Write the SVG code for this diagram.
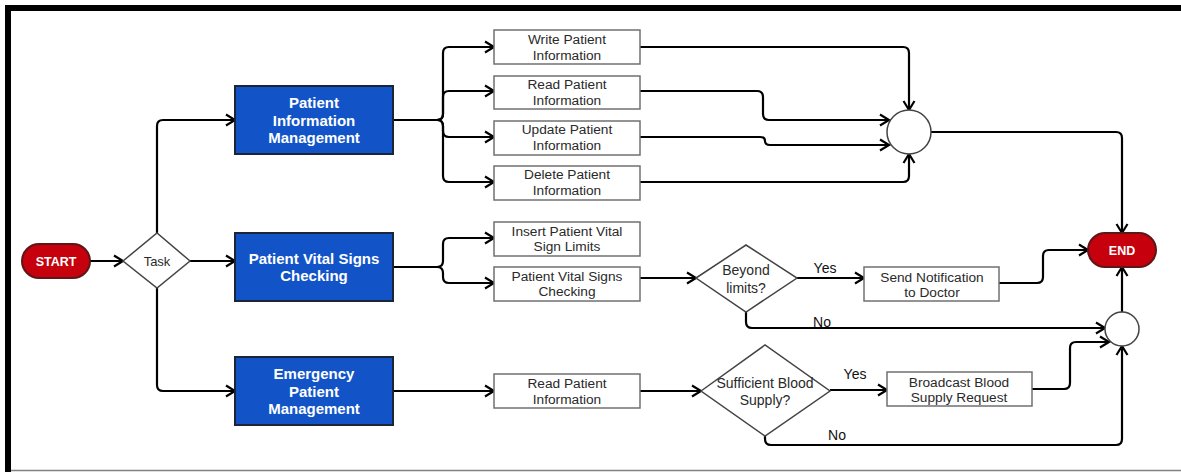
<svg xmlns="http://www.w3.org/2000/svg" width="1181" height="472" viewBox="0 0 1181 472">
  <style>
    .terminal { fill: #c6000c; stroke: #5e1616; stroke-width: 2; }
    .terminal-text { font-family: "Liberation Sans", Arial, sans-serif; font-size: 12.5px; font-weight: bold; fill: #ffffff; text-anchor: middle; }
    .module { fill: #1254c8; stroke: #1a2538; stroke-width: 2; }
    .module-text { font-family: "Liberation Sans", Arial, sans-serif; font-size: 15px; font-weight: bold; fill: #ffffff; text-anchor: middle; }
    .step { fill: #ffffff; stroke: #707070; stroke-width: 1.5; }
    .step-text { font-family: "Liberation Sans", Arial, sans-serif; font-size: 13.7px; fill: #2a2a2a; text-anchor: middle; }
    .decision { fill: #ffffff; stroke: #444444; stroke-width: 1.5; }
    .decision-text { font-family: "Liberation Sans", Arial, sans-serif; font-size: 14px; fill: #2a2a2a; text-anchor: middle; }
    .junction { fill: #ffffff; stroke: #444444; stroke-width: 1.5; }
    .flow { fill: none; stroke: #000000; stroke-width: 2.2; }
    .flow-arrow { fill: none; stroke: #000000; stroke-width: 2.2; marker-end: url(#arrow); }
    .label { font-family: "Liberation Sans", Arial, sans-serif; font-size: 14px; fill: #111111; text-anchor: middle; }
  </style>
  <defs>
    <marker id="arrow" markerWidth="14" markerHeight="14" refX="11" refY="7" orient="auto" markerUnits="userSpaceOnUse">
      <path d="M2,1.5 L11,7 L2,12.5" fill="none" stroke="#000000" stroke-width="2.2" stroke-linejoin="miter"/>
    </marker>
  </defs>

  <rect x="0" y="0" width="1181" height="472" fill="#ffffff"/>

  <!-- frame -->
  <g id="frame">
    <path d="M8,472 V8 H1181" fill="none" stroke="#000000" stroke-width="6"/>
    <line x1="11" y1="470.5" x2="1181" y2="470.5" stroke="#808080" stroke-width="1.5"/>
  </g>

  <!-- connectors -->
  <g id="connectors">
    <path class="flow-arrow" d="M90,261 H123"/>
    <path class="flow-arrow" d="M157,233 V126 Q157,120 163,120 H235"/>
    <path class="flow-arrow" d="M190,261 H235"/>
    <path class="flow-arrow" d="M157,288 V385 Q157,391 163,391 H235"/>

    <!-- patient information fork -->
    <path class="flow" d="M393,120 H437"/>
    <path class="flow-arrow" d="M437,120 Q443,120 443,114 V53 Q443,47 449,47 H494"/>
    <path class="flow-arrow" d="M437,120 Q443,120 443,114 V97 Q443,91 449,91 H494"/>
    <path class="flow-arrow" d="M437,120 Q443,120 443,126 V131 Q443,137 449,137 H494"/>
    <path class="flow-arrow" d="M437,120 Q443,120 443,126 V176 Q443,182 449,182 H494"/>

    <!-- patient information merge -->
    <path class="flow-arrow" d="M640,47 H903 Q909,47 909,53 V110"/>
    <path class="flow-arrow" d="M640,91 H757 Q763,91 763,97 V114 Q763,120 769,120 H889"/>
    <path class="flow-arrow" d="M640,137 H760 Q765,137 765,141 Q765,145 770,145 H889"/>
    <path class="flow-arrow" d="M640,182 H903 Q909,182 909,176 V154"/>
    <path class="flow-arrow" d="M931,132 H1116 Q1122,132 1122,138 V233"/>

    <!-- vital signs fork -->
    <path class="flow" d="M393,267 H437"/>
    <path class="flow-arrow" d="M437,267 Q443,267 443,261 V244 Q443,238 449,238 H494"/>
    <path class="flow-arrow" d="M437,267 Q443,267 443,273 V277 Q443,283 449,283 H494"/>
    <path class="flow-arrow" d="M640,278 H696"/>
    <path class="flow-arrow" d="M797,278 H864"/>
    <path class="flow-arrow" d="M999,283 H1037 Q1043,283 1043,277 V256 Q1043,250 1049,250 H1088"/>
    <path class="flow-arrow" d="M746,312 V322 Q746,328 752,328 H1105"/>
    <path class="flow-arrow" d="M1122,312 V267"/>

    <!-- emergency branch -->
    <path class="flow-arrow" d="M393,391 H494"/>
    <path class="flow-arrow" d="M640,391 H701"/>
    <path class="flow-arrow" d="M830,390 H887"/>
    <path class="flow-arrow" d="M1032,389 H1064 Q1070,389 1070,383 V348 Q1070,342 1076,342 H1109"/>
    <path class="flow-arrow" d="M765,436 V439 Q765,445 771,445 H1116 Q1122,445 1122,439 V346"/>

    <text class="label" x="825" y="273">Yes</text>
    <text class="label" x="822" y="327">No</text>
    <text class="label" x="855" y="379">Yes</text>
    <text class="label" x="837" y="440">No</text>
  </g>

  <g id="start">
    <rect class="terminal" x="22" y="244" width="68" height="34" rx="17"/>
    <text class="terminal-text" x="56" y="265.5">START</text>
  </g>

  <g id="task">
    <polygon class="decision" points="123,261 157,233 190,261 157,288"/>
    <text class="decision-text" x="157" y="266" style="font-size:13px">Task</text>
  </g>

  <g id="patient-information-management">
    <rect class="module" x="235" y="86" width="158" height="68"/>
    <text class="module-text" x="314" y="108">Patient</text>
    <text class="module-text" x="314" y="126">Information</text>
    <text class="module-text" x="314" y="143">Management</text>
  </g>

  <g id="patient-vital-signs-checking">
    <rect class="module" x="235" y="233" width="158" height="68"/>
    <text class="module-text" x="314" y="264">Patient Vital Signs</text>
    <text class="module-text" x="314" y="281">Checking</text>
  </g>

  <g id="emergency-patient-management">
    <rect class="module" x="235" y="357" width="158" height="68"/>
    <text class="module-text" x="314" y="379">Emergency</text>
    <text class="module-text" x="314" y="397">Patient</text>
    <text class="module-text" x="314" y="414">Management</text>
  </g>

  <g id="write-patient-information">
    <rect class="step" x="494" y="30" width="146" height="34"/>
    <text class="step-text" x="567" y="44">Write Patient</text>
    <text class="step-text" x="567" y="60">Information</text>
  </g>

  <g id="read-patient-information">
    <rect class="step" x="494" y="76" width="146" height="33"/>
    <text class="step-text" x="567" y="89">Read Patient</text>
    <text class="step-text" x="567" y="105">Information</text>
  </g>

  <g id="update-patient-information">
    <rect class="step" x="494" y="121" width="146" height="34"/>
    <text class="step-text" x="567" y="134">Update Patient</text>
    <text class="step-text" x="567" y="150">Information</text>
  </g>

  <g id="delete-patient-information">
    <rect class="step" x="494" y="166" width="146" height="34"/>
    <text class="step-text" x="567" y="179">Delete Patient</text>
    <text class="step-text" x="567" y="195">Information</text>
  </g>

  <g id="insert-vital-sign-limits">
    <rect class="step" x="494" y="222" width="146" height="34"/>
    <text class="step-text" x="567" y="236">Insert Patient Vital</text>
    <text class="step-text" x="567" y="251">Sign Limits</text>
  </g>

  <g id="vital-signs-checking">
    <rect class="step" x="494" y="267" width="146" height="34"/>
    <text class="step-text" x="567" y="281">Patient Vital Signs</text>
    <text class="step-text" x="567" y="296">Checking</text>
  </g>

  <g id="emergency-read-patient-information">
    <rect class="step" x="494" y="374" width="146" height="34"/>
    <text class="step-text" x="567" y="388">Read Patient</text>
    <text class="step-text" x="567" y="404">Information</text>
  </g>

  <g id="beyond-limits">
    <polygon class="decision" points="696,278 746,245 797,278 746,312"/>
    <text class="decision-text" x="746" y="275">Beyond</text>
    <text class="decision-text" x="746" y="293">limits?</text>
  </g>

  <g id="sufficient-blood-supply">
    <polygon class="decision" points="701,391 765,345 830,391 765,436"/>
    <text class="decision-text" x="765" y="388">Sufficient Blood</text>
    <text class="decision-text" x="765" y="405">Supply?</text>
  </g>

  <g id="send-notification">
    <rect class="step" x="864" y="267" width="135" height="34"/>
    <text class="step-text" x="932" y="282">Send Notification</text>
    <text class="step-text" x="932" y="297">to Doctor</text>
  </g>

  <g id="broadcast-blood-supply">
    <rect class="step" x="887" y="372" width="145" height="34"/>
    <text class="step-text" x="959" y="387">Broadcast Blood</text>
    <text class="step-text" x="959" y="402">Supply Request</text>
  </g>

  <g id="merge-information">
    <circle class="junction" cx="909" cy="132" r="22"/>
  </g>

  <g id="merge-alerts">
    <circle class="junction" cx="1122" cy="329" r="17"/>
  </g>

  <g id="end">
    <rect class="terminal" x="1088" y="233" width="68" height="34" rx="17"/>
    <text class="terminal-text" x="1122" y="254.5">END</text>
  </g>
</svg>
